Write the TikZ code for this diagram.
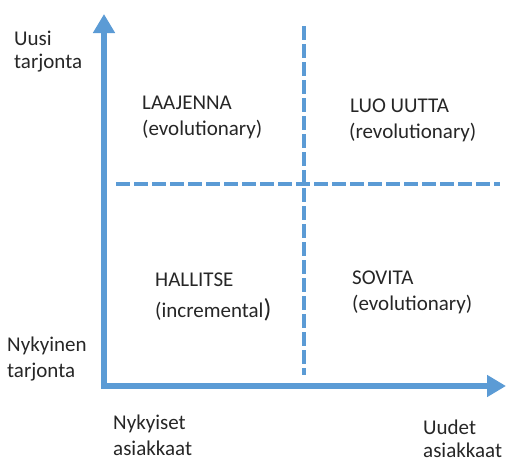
\documentclass[tikz,border=0pt]{standalone}
\usepackage{fontspec}
\setmainfont{Carlito}
\usetikzlibrary{arrows.meta}
\definecolor{axisblue}{RGB}{91,155,213}
\begin{document}
\begin{tikzpicture}[x=1pt,y=-1pt,
  lbl/.style={anchor=west,inner sep=0pt,font=\fontsize{21}{24}\selectfont,text=black!85},
  axis/.style={draw=axisblue,line width=6pt,line join=miter,
    {Triangle[length=19pt,width=21pt]}-{Triangle[length=19pt,width=21pt]}},
  divider/.style={draw=axisblue,line width=3.6pt,dash pattern=on 13.5pt off 4.5pt}]
\useasboundingbox (0,0) rectangle (506,461);
% axes: one path with the corner at the origin
\coordinate (origin) at (104,386);
\coordinate (ytip) at (104,14);
\coordinate (xtip) at (506,386);
\draw[axis] (ytip) -- (origin) -- (xtip);
% quadrant dividers
\coordinate (vtop) at (304,26);
\coordinate (vbot) at (304,375);
\coordinate (hleft) at (116,184);
\coordinate (hright) at (500,184);
\draw[divider] (vtop) -- (vbot);
\draw[divider] (hleft) -- (hright);
% axis labels
\node[lbl] (uusi) at (14,38) {Uusi};
\node[lbl] (uusit) at (14,63) {tarjonta};
\node[lbl] (nyk) at (7,346) {Nykyinen};
\node[lbl] (nykt) at (7,372) {tarjonta};
\node[lbl] (nas) at (113,424) {Nykyiset};
\node[lbl] (nasa) at (113,448) {asiakkaat};
\node[lbl] (uas) at (423,427) {Uudet};
\node[lbl] (uasa) at (423,450) {asiakkaat};
% quadrant labels
\node[lbl] (laa) at (142,103) {LAAJENNA};
\node[lbl] (laae) at (142,130) {(evolutionary)};
\node[lbl] (luo) at (350,106) {LUO UUTTA};
\node[lbl] (luor) at (349,133) {(revolutionary)};
\node[lbl] (hal) at (155,280) {HALLITSE};
\node[lbl] (hali) at (155,310) {(incremental{\fontsize{26}{26}\selectfont)}};
\node[lbl] (sov) at (352,278) {SOVITA};
\node[lbl] (sove) at (352,305) {(evolutionary)};
\end{tikzpicture}
\end{document}
